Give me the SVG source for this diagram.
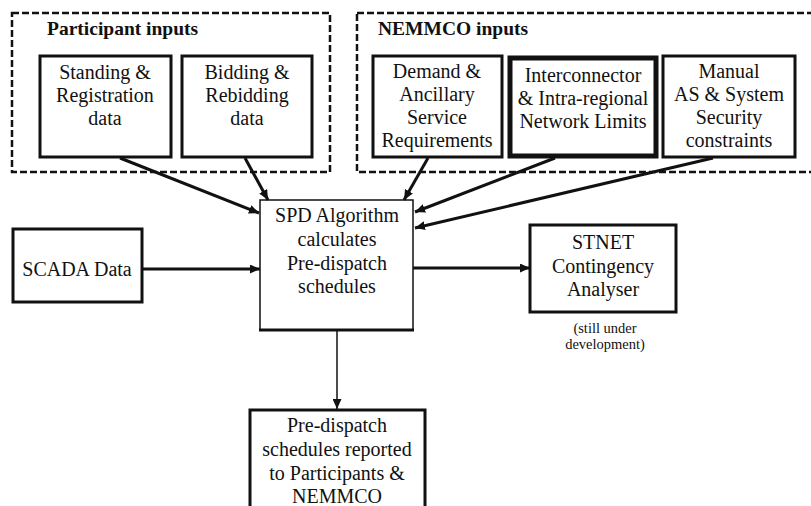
<svg xmlns="http://www.w3.org/2000/svg" width="811" height="506" viewBox="0 0 811 506">
<defs>
<style>
text{font-family:"Liberation Serif","Times New Roman",serif;font-size:20px;fill:#111;text-anchor:middle}
.title{font-weight:bold;text-anchor:start;font-size:19.5px}
.small{font-size:14.5px}
.grp{fill:none;stroke:#111;stroke-width:2.5;stroke-dasharray:7 3}
.box{fill:#fff;stroke:#111;stroke-width:3}
.thick{stroke-width:5}
.thin{stroke-width:1.5}
.conn{fill:none;stroke:#111;stroke-width:3}
.conn-thin{fill:none;stroke:#111;stroke-width:1.5}
</style>
<marker id="ah" markerUnits="userSpaceOnUse" markerWidth="11" markerHeight="9" refX="10" refY="4.5" orient="auto">
<path d="M0,0 L10,4.5 L0,9 z" fill="#111"/>
</marker>
</defs>
<rect width="811" height="506" fill="#fff"/>

<g id="participant-inputs">
<rect class="grp" x="12" y="13" width="318" height="159"/>
<text class="title" x="47" y="35">Participant inputs</text>
</g>
<g id="nemmco-inputs">
<rect class="grp" x="357" y="13" width="470" height="159"/>
<text class="title" x="378" y="35">NEMMCO inputs</text>
</g>

<g id="standing">
<rect class="box" x="40" y="56" width="131" height="101"/>
<text x="105" y="79">Standing &amp;</text>
<text x="105" y="102">Registration</text>
<text x="105" y="125">data</text>
</g>
<g id="bidding">
<rect class="box" x="182" y="56" width="130" height="101"/>
<text x="247" y="79">Bidding &amp;</text>
<text x="247" y="102">Rebidding</text>
<text x="247" y="125">data</text>
</g>
<g id="demand">
<rect class="box" x="373" y="56" width="129" height="101"/>
<text x="437" y="78">Demand &amp;</text>
<text x="437" y="101">Ancillary</text>
<text x="437" y="124">Service</text>
<text x="437" y="147">Requirements</text>
</g>
<g id="interconnector">
<rect class="box thick" x="510" y="58" width="146" height="98"/>
<text x="583" y="82">Interconnector</text>
<text x="583" y="105">&amp; Intra-regional</text>
<text x="583" y="128">Network Limits</text>
</g>
<g id="manual">
<rect class="box" x="663" y="56" width="132" height="101"/>
<text x="729" y="78">Manual</text>
<text x="729" y="101">AS &amp; System</text>
<text x="729" y="124">Security</text>
<text x="729" y="147">constraints</text>
</g>

<g id="spd">
<rect class="box thin" x="260" y="200" width="153" height="130"/>
<line x1="259" y1="330" x2="414" y2="330" stroke="#111" stroke-width="3"/>
<text x="337" y="222">SPD Algorithm</text>
<text x="337" y="246">calculates</text>
<text x="337" y="270">Pre-dispatch</text>
<text x="337" y="293">schedules</text>
</g>
<g id="scada">
<rect class="box" x="13" y="229" width="129" height="73"/>
<text x="77" y="276">SCADA Data</text>
</g>
<g id="stnet">
<rect class="box" x="530" y="225" width="146" height="87"/>
<text x="603" y="249">STNET</text>
<text x="603" y="273">Contingency</text>
<text x="603" y="296">Analyser</text>
<text class="small" x="605" y="333">(still under</text>
<text class="small" x="605" y="349">development)</text>
</g>
<g id="predispatch-report">
<rect class="box" x="250" y="410" width="175" height="110"/>
<text x="337" y="432">Pre-dispatch</text>
<text x="337" y="456">schedules reported</text>
<text x="337" y="480">to Participants &amp;</text>
<text x="337" y="503">NEMMCO</text>
</g>

<g id="connectors">
<line class="conn" x1="120" y1="158" x2="259" y2="213" marker-end="url(#ah)"/>
<line class="conn" x1="245" y1="158" x2="268" y2="200" marker-end="url(#ah)"/>
<line class="conn" x1="428" y1="158" x2="404" y2="200" marker-end="url(#ah)"/>
<line class="conn" x1="555" y1="158" x2="415" y2="212" marker-end="url(#ah)"/>
<line class="conn" x1="713" y1="158" x2="415" y2="228" marker-end="url(#ah)"/>
<line class="conn" x1="142" y1="269" x2="260" y2="269" marker-end="url(#ah)"/>
<line class="conn" x1="413" y1="268" x2="530" y2="268" marker-end="url(#ah)"/>
<line class="conn-thin" x1="337" y1="331" x2="337" y2="409" marker-end="url(#ah)"/>
</g>
</svg>
